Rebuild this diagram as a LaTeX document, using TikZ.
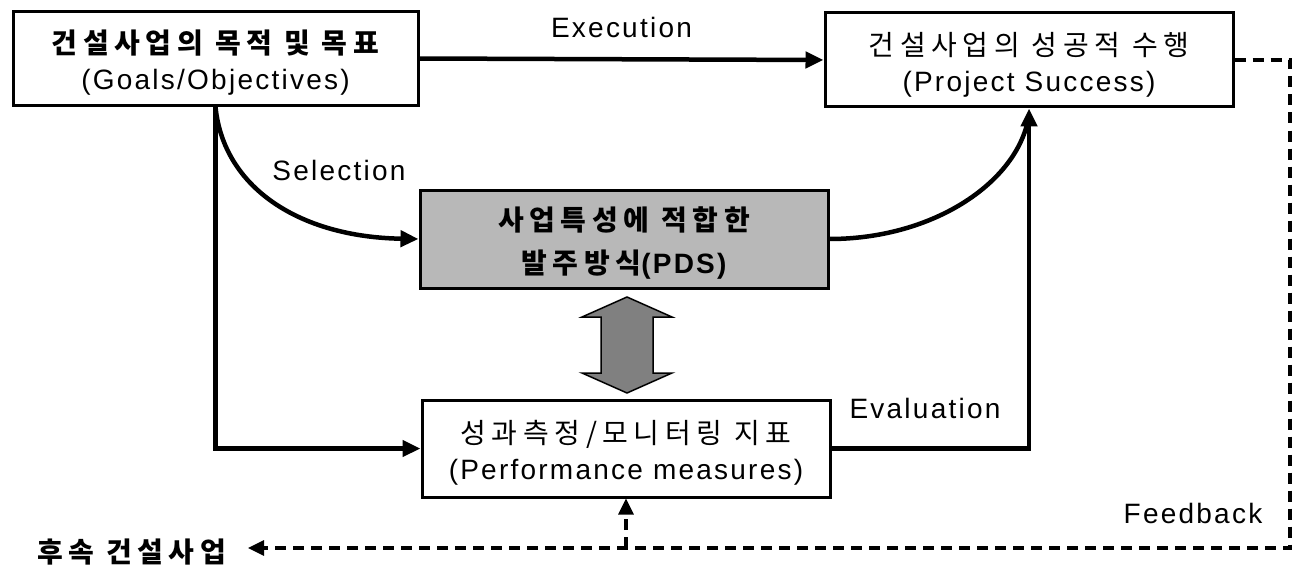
\documentclass[tikz,border=0pt]{standalone}
\usepackage{fontspec}
\setmainfont{Liberation Sans}[LetterSpace=8]
\newfontfamily\kr{Noto Sans CJK KR}[LetterSpace=20]
\usetikzlibrary{arrows.meta,calc}
\newcommand{\kt}[1]{{\kr\fontsize{28}{36}\selectfont\rule{0pt}{32pt}#1}}
\newcommand{\ktb}[1]{{\kr\bfseries\fontsize{28}{36}\selectfont\rule{0pt}{32pt}#1}}

\begin{document}
\begin{tikzpicture}[x=1pt,y=-1pt,>={Triangle[length=18pt,width=16pt]},
  box/.style={draw,line width=3pt,minimum width=405pt,minimum height=94pt,
    inner sep=0pt,align=center,font=\fontsize{28}{36}\selectfont},
  flow/.style={line width=4.5pt},
  fb/.style={line width=3.2pt,dash pattern=on 11pt off 7pt,
    -{Triangle[length=16pt,width=15pt]}},
  lbl/.style={font=\fontsize{28}{34}\selectfont}]
  \useasboundingbox (0,0) rectangle (1292,567);
  % boxes
  \node[box] (goal) at (215.5,58.5) {\ktb{건설사업의 목적 및 목표}\\(Goals/Objectives)};
  \node[box,minimum width=408pt] (success) at (1029,60)
    {\kt{건설사업의 성공적 수행}\\(Project Success)};
  \node[box,minimum width=408pt,minimum height=98pt,fill=black!28,
    font=\fontsize{28}{43}\selectfont] (pds) at (624,239)
    {\ktb{사업특성에 적합한}\\\ktb{발주방식{\normalfont\bfseries(PDS)}}};
  \node[box,minimum width=408pt,minimum height=97pt] (measure) at (626,448.5)
    {\kt{성과측정/모니터링 지표}\\(Performance measures)};
  \node[anchor=east,inner sep=0pt,outer xsep=22pt] (next) at (248,548)
    {\ktb{후속 건설사업}};
  % solid links
  \draw[flow,->] (goal.east) -- node[lbl,above=16pt] {Execution} (success.west);
  \draw[flow,->] (goal.south) -- (goal.south |- measure.west) -- (measure.west);
  \draw[flow,->] (goal.south) .. controls +(8,80) and +(-120,-2) .. (pds.west);
  \node[lbl] (sel) at (339,170) {Selection};
  \coordinate (join) at ($(success.south)+(-2,16)$);
  \draw[flow] (pds.east) .. controls +(100,0) and +(-16,62) .. (join);
  \draw[flow,->] (measure.east) -- (measure.east -| success.south) -- (success.south);
  \node[lbl] (eval) at (925,408) {Evaluation};
  % double arrow between PDS and measures
  \draw[line width=1.5pt,fill=black!50] (627,297) -- ++(45,20) -- ++(-19,0) -- ++(0,56)
    -- ++(19,0) -- ++(-45,20) -- ++(-45,-20) -- ++(19,0) -- ++(0,-56) -- ++(-19,0) -- cycle;
  % feedback
  \coordinate (fbc) at (1290,548);
  \draw[fb] (success.east) -- (success.east -| fbc) -- (fbc) -- (next.east);
  \draw[fb] (measure.south |- fbc) -- (measure.south);
  \node[lbl] (feed) at (1193,513) {Feedback};
\end{tikzpicture}
\end{document}
